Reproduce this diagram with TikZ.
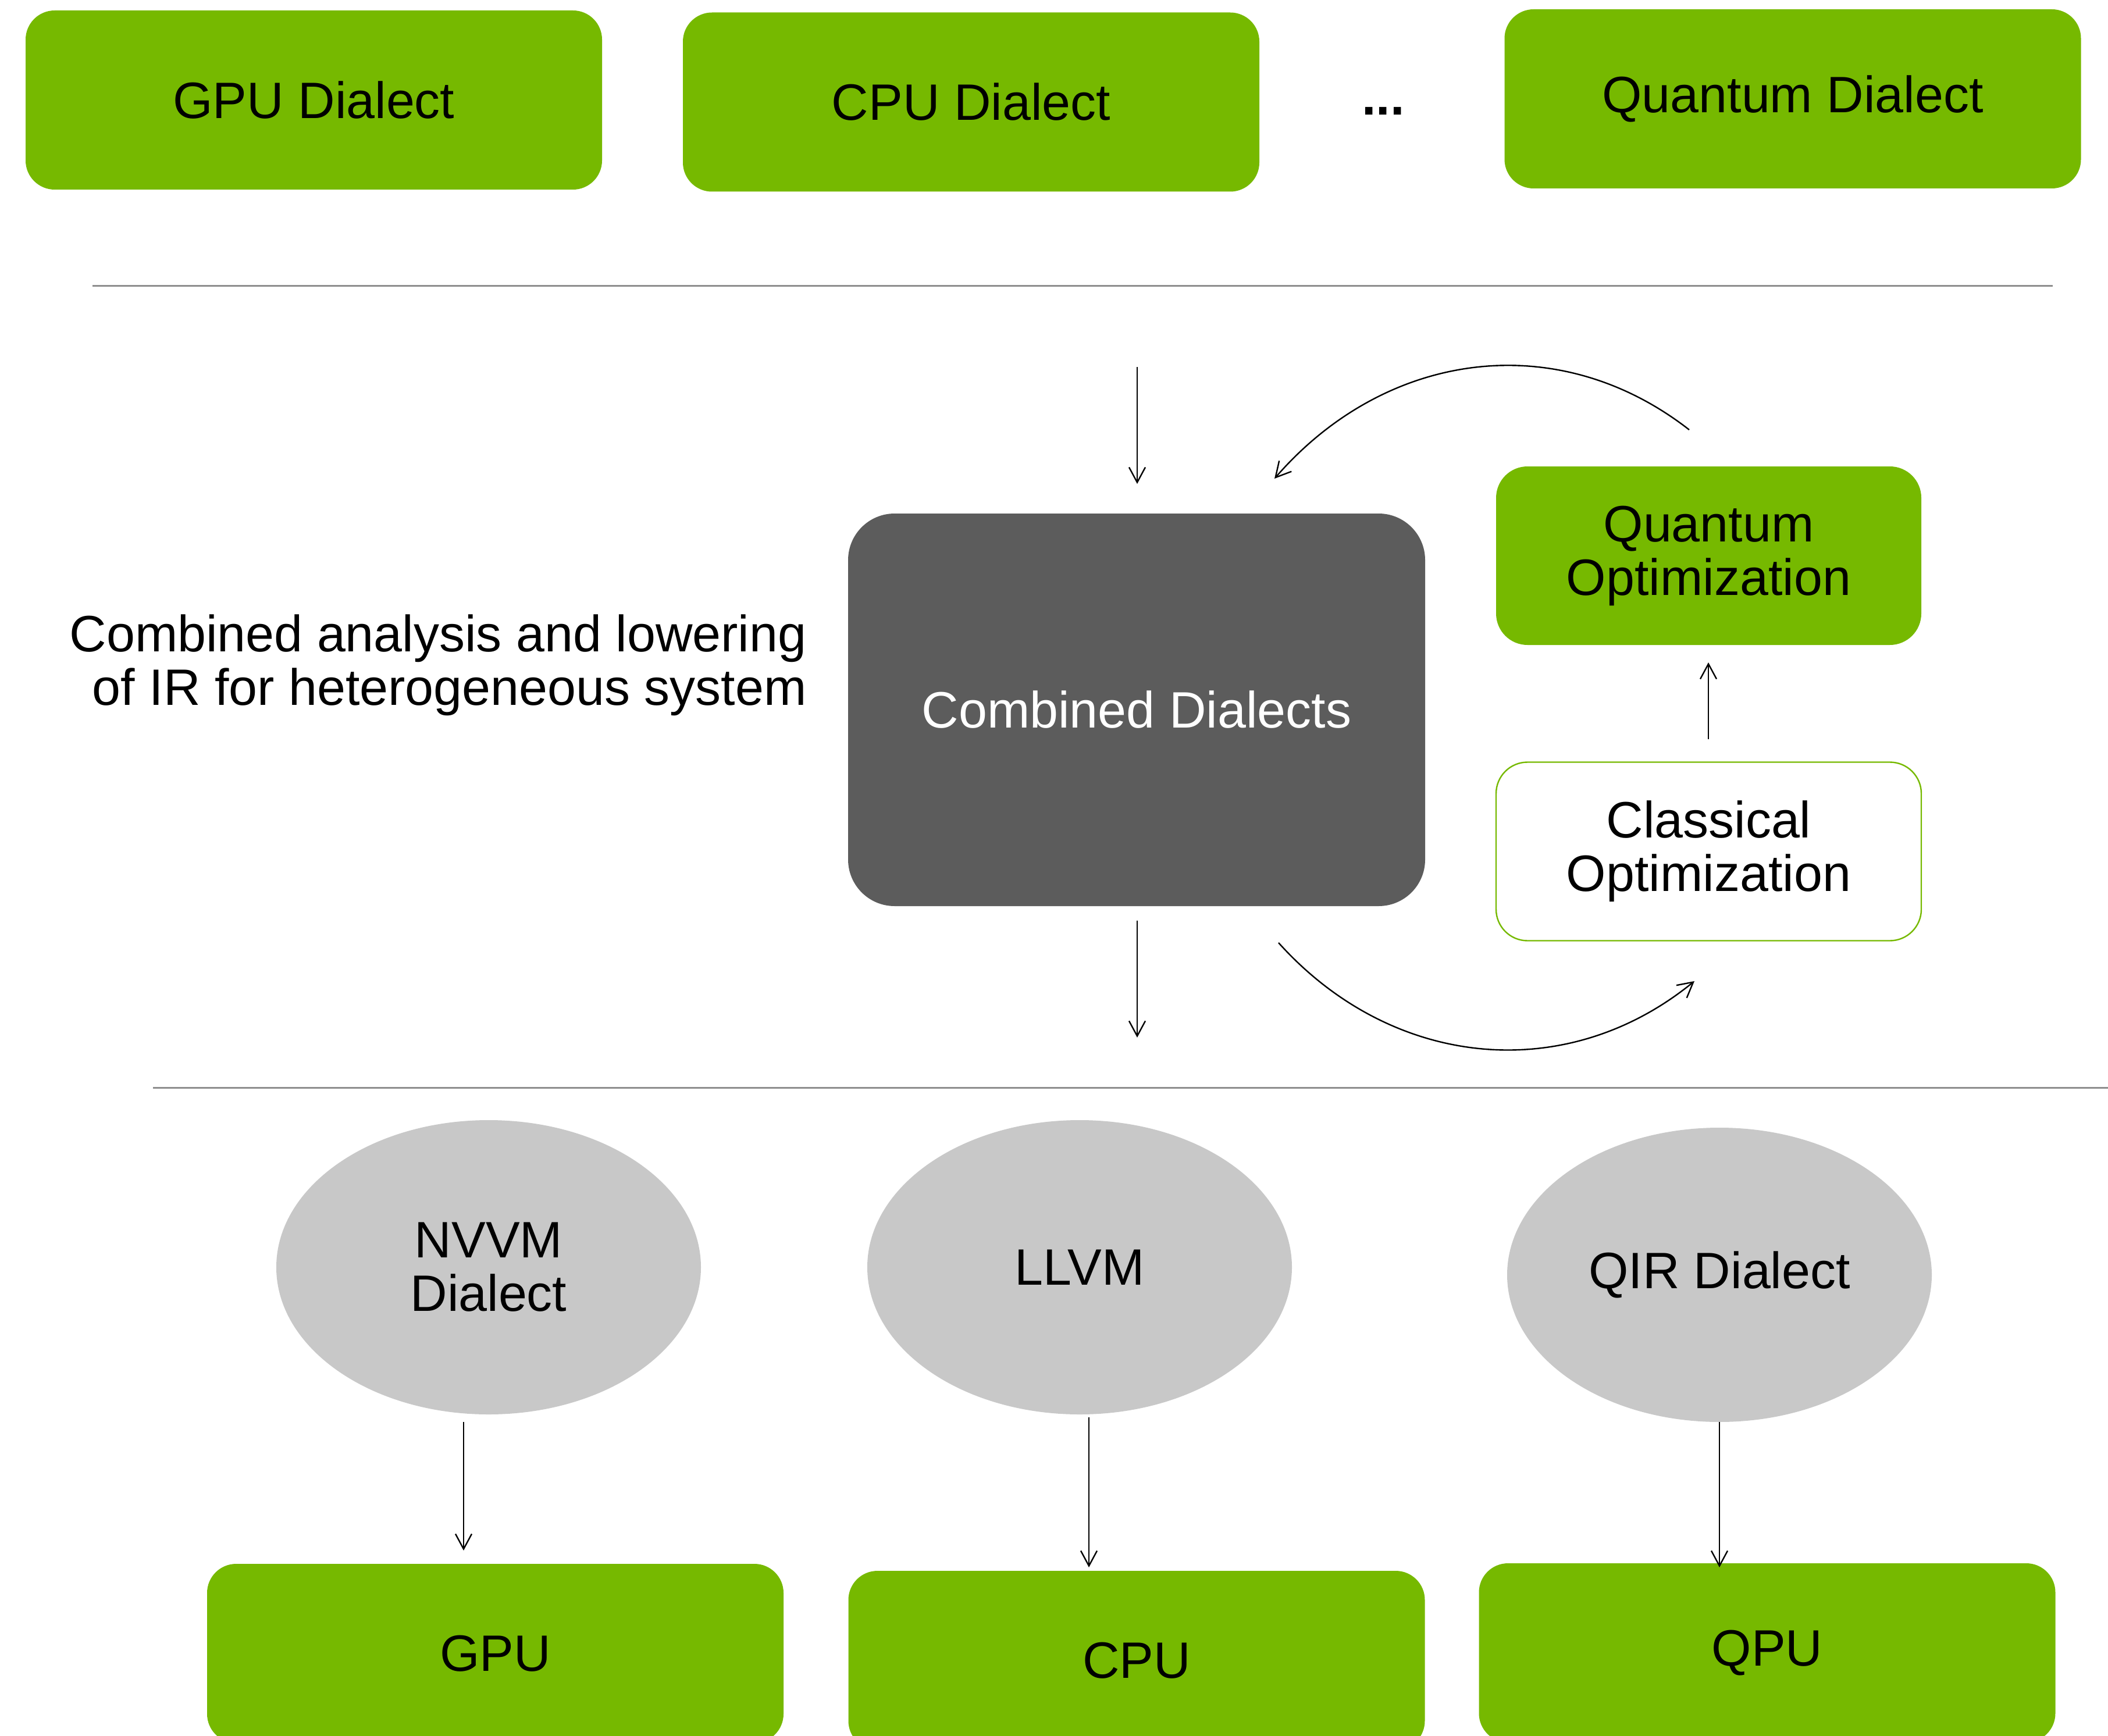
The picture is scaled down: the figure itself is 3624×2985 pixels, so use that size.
\documentclass[tikz,border=0pt]{standalone}
\usepackage{fontspec}
\setmainfont{Liberation Sans}
\usetikzlibrary{arrows.meta,shapes.geometric}
\definecolor{nvgreen}{HTML}{76B900}
\definecolor{darkbox}{HTML}{5C5C5C}
\definecolor{ovalgray}{HTML}{C8C8C8}
\definecolor{rulegray}{HTML}{8E8E8E}

\begin{document}
\begin{tikzpicture}[x=0.5pt,y=-0.5pt,
  every node/.style={font=\fontsize{44}{46}\selectfont, inner sep=0pt, align=center},
  greenbox/.style={fill=nvgreen, rounded corners=25pt, minimum width=495.5pt, minimum height=154pt},
  optbox/.style={rounded corners=27pt, minimum width=365.5pt, minimum height=153.5pt},
  oval/.style={ellipse, fill=ovalgray, minimum width=365pt, minimum height=253pt},
  flow/.style={draw=black, line width=1.2pt, -{Straight Barb[length=13pt,width=14pt]}},
  rulebar/.style={draw=rulegray, line width=1.5pt}]

\useasboundingbox (0,0) rectangle (3624,2985);
\clip (0,0) rectangle (3624,2985);

% source dialects
\node[greenbox] (gpud) at (539.5,172) {GPU Dialect};
\node[greenbox] (cpud) at (1669.5,175.5) {CPU Dialect};
\node[anchor=base, font=\fontsize{44}{46}\selectfont\bfseries] (dots) at (2378,198) {...};
\node[greenbox] (qd) at (3082,170) {Quantum Dialect};

% separators
\coordinate (r1a) at (159,492);
\coordinate (r1b) at (3529,492);
\draw[rulebar] (r1a) -- (r1b);
\coordinate (r2a) at (263,1870);
\coordinate (r2b) at (3624,1870);
\draw[rulebar] (r2a) -- (r2b);

% combined stage
\node[anchor=east, align=right] (caption) at (1387,1144) {Combined analysis and lowering\\of IR for heterogeneous system};
\node[fill=darkbox, rounded corners=40pt, minimum width=496pt, minimum height=337.5pt, text=white] (comb) at (1954,1220.5) {Combined Dialects};
\node[optbox, fill=nvgreen] (qopt) at (2937.5,955.5) {Quantum\\Optimization};
\node[optbox, fill=white, draw=nvgreen, line width=1.2pt] (copt) at (2937.5,1464) {Classical\\Optimization};

\coordinate (in0) at (1955,631);
\coordinate (in1) at (1955,832);
\draw[flow] (in0) -- (in1);
\coordinate (out0) at (1955,1583);
\coordinate (out1) at (1955,1784);
\draw[flow] (out0) -- (out1);
\coordinate (up0) at (2937,1271);
\coordinate (up1) at (2937,1139);
\draw[flow] (up0) -- (up1);

% optimisation loop
\coordinate (ta0) at (2904,739);
\coordinate (ta1) at (2191,823);
\draw[flow] (ta0) .. controls (2677,562) and (2382,603) .. (ta1);
\coordinate (ba0) at (2198,1621);
\coordinate (ba1) at (2913,1687);
\draw[flow] (ba0) .. controls (2392,1837) and (2691,1868) .. (ba1);

% target dialects
\node[oval] (nvvm) at (840,2179) {NVVM\\Dialect};
\node[oval] (llvm) at (1856,2179) {LLVM};
\node[oval] (qir) at (2956,2192) {QIR Dialect};

% hardware
\node[greenbox] (gpu) at (851.5,2843) {GPU};
\node[greenbox] (cpu) at (1954,2855) {CPU};
\node[greenbox] (qpu) at (3038,2842) {QPU};

\coordinate (n0) at (797,2445);
\coordinate (n1) at (797,2666);
\draw[flow] (n0) -- (n1);
\coordinate (l0) at (1872,2437);
\coordinate (l1) at (1872,2695);
\draw[flow] (l0) -- (l1);
\coordinate (q0) at (2956,2445);
\coordinate (q1) at (2956,2695);
\draw[flow] (q0) -- (q1);
\end{tikzpicture}
\end{document}
